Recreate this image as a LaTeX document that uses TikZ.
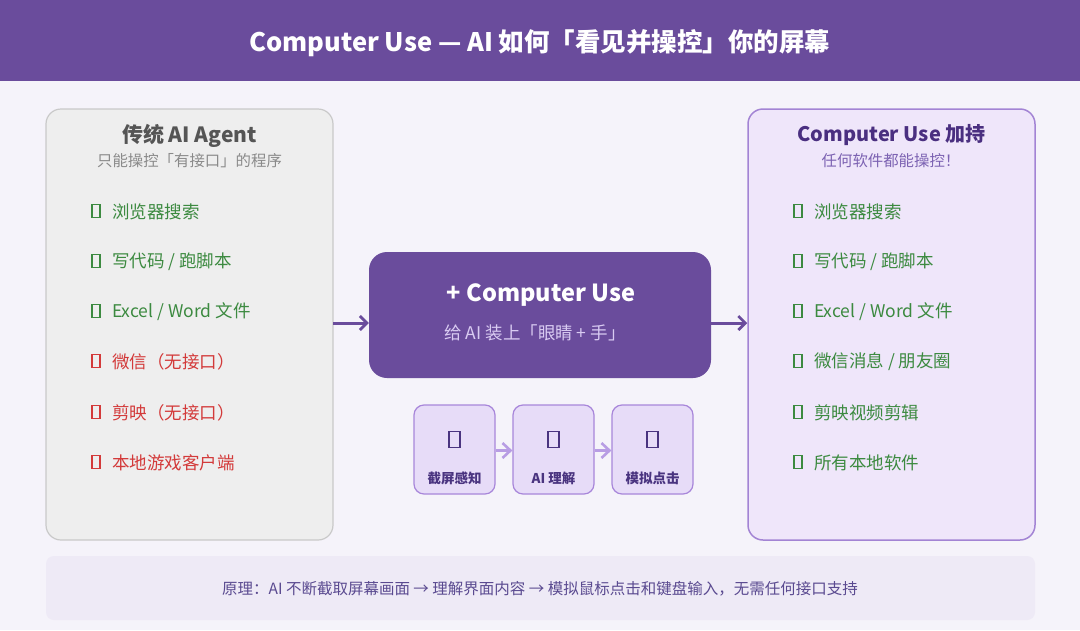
\documentclass[tikz,border=0pt]{standalone}
\usepackage{fontspec}
\setmainfont{Noto Sans CJK SC}
\usetikzlibrary{arrows.meta}
\definecolor{bgc}{HTML}{F5F3FA}
\definecolor{barc}{HTML}{6A4C9C}
\definecolor{leftfill}{HTML}{EEEEEE}
\definecolor{leftdraw}{HTML}{C9C9C9}
\definecolor{rightfill}{HTML}{EFE6FA}
\definecolor{rightdraw}{HTML}{A384D4}
\definecolor{greenc}{HTML}{3C8A40}
\definecolor{redc}{HTML}{D33A3A}
\definecolor{graytitle}{HTML}{555555}
\definecolor{graysub}{HTML}{8A8A8A}
\definecolor{purpletitle}{HTML}{4A2F80}
\definecolor{purplesub}{HTML}{7C62B2}
\definecolor{centersub}{HTML}{D9CBF2}
\definecolor{smallfill}{HTML}{E7DCF8}
\definecolor{smalldraw}{HTML}{A886DA}
\definecolor{smalltext}{HTML}{4A3480}
\definecolor{smallarrow}{HTML}{B89DE4}
\definecolor{bottomfill}{HTML}{EEEAF6}
\definecolor{bottomtext}{HTML}{5A4A90}
\tikzset{
  fs/.style={font=\fontsize{#1}{#1}\selectfont},
  itemg/.style={anchor=west, text=greenc, fs=17.5},
  itemr/.style={anchor=west, text=redc, fs=17.5},
  tofu/.style={draw=#1, line width=1.3pt, inner sep=0pt, minimum width=8pt, minimum height=13pt},
  bigtofu/.style={draw=smalltext, line width=1.5pt, inner sep=0pt, minimum width=11pt, minimum height=16pt},
  smallbox/.style={draw=smalldraw, line width=1.2pt, fill=smallfill, rounded corners=10pt, minimum width=81pt, minimum height=89pt},
  smalllab/.style={text=smalltext, font=\bfseries\fontsize{13.5}{13.5}\selectfont},
  mainarrow/.style={draw=barc, line width=3pt, -{Straight Barb[length=7pt,width=14pt,line width=2.8pt]}},
  smallarr/.style={draw=smallarrow, line width=2.8pt, -{Straight Barb[length=8pt,width=15pt,line width=2.6pt]}},
}
\begin{document}
\begin{tikzpicture}[x=1pt,y=-1pt]
\fill[bgc] (0,0) rectangle (1080,630);
\useasboundingbox (0,0) rectangle (1080,630);
% title bar
\fill[barc] (0,0) rectangle (1080,81);
\node[text=white, font=\bfseries\fontsize{25.5}{25.5}\selectfont] (title) at (540,43) {Computer Use — AI 如何「看见并操控」你的屏幕};

% left panel
\node[draw=leftdraw, line width=1.2pt, fill=leftfill, rounded corners=15pt, minimum width=287pt, minimum height=431pt] (left) at (189.5,324.5) {};
\node[text=graytitle, font=\bfseries\fontsize{21}{21}\selectfont] (ltitle) at (189.5,135.5) {传统 AI Agent};
\node[text=graysub, fs=15.4] (lsub) at (189.5,161) {只能操控「有接口」的程序};
\foreach \y/\t/\s/\c [count=\i] in {211/{浏览器搜索}/itemg/greenc, 261/{写代码 / 跑脚本}/itemg/greenc, 311/{Excel / Word 文件}/itemg/greenc, 361/{微信（无接口）}/itemr/redc, 412/{剪映（无接口）}/itemr/redc, 462/{本地游戏客户端}/itemr/redc}{
  \node[\s, inner sep=0pt] (lt\i) at (112,\y+1) {\t};
  \node[tofu=\c] (lb\i) at (96,\y) {};
}

% right panel
\node[draw=rightdraw, line width=1.5pt, fill=rightfill, rounded corners=15pt, minimum width=287pt, minimum height=431pt] (right) at (891.5,324.5) {};
\node[text=purpletitle, font=\bfseries\fontsize{20}{20}\selectfont] (rtitle) at (891.5,135.5) {Computer Use 加持};
\node[text=purplesub, fs=15.4] (rsub) at (891,161) {任何软件都能操控！};
\foreach \y/\t [count=\i] in {211/{浏览器搜索}, 261/{写代码 / 跑脚本}, 311/{Excel / Word 文件}, 361/{微信消息 / 朋友圈}, 412/{剪映视频剪辑}, 462/{所有本地软件}}{
  \node[itemg, inner sep=0pt] (rt\i) at (814,\y+1) {\t};
  \node[tofu=greenc] (rb\i) at (798,\y) {};
}

% center box
\node[fill=barc, rounded corners=18pt, minimum width=342pt, minimum height=126pt] (center) at (540,315) {};
\node[text=white, font=\bfseries\fontsize{23.5}{23.5}\selectfont] (ctitle) at (541,295.5) {+ Computer Use};
\node[text=centersub, fs=17.5] (csub) at (535,333) {给 AI 装上「眼睛 + 手」};

\coordinate (la) at (333,323);
\coordinate (ra) at (711,323);
\draw[mainarrow] (la) -- (center.west |- la);
\draw[mainarrow] (ra) -- (right.west |- ra);

% small boxes
\node[smallbox] (s1) at (454.5,449.5) {};
\node[smallbox] (s2) at (553.5,449.5) {};
\node[smallbox] (s3) at (652.5,449.5) {};
\foreach \n/\t in {s1/{截屏感知}, s2/{AI 理解}, s3/{模拟点击}}{
  \node[bigtofu] at ([yshift=10pt]\n.center) {};
  \node[smalllab] at ([yshift=-29pt]\n.center) {\t};
}
\draw[smallarr] ([yshift=-1pt]s1.east) -- ([yshift=-1pt]s2.west);
\draw[smallarr] ([yshift=-1pt]s2.east) -- ([yshift=-1pt]s3.west);

% bottom
\node[fill=bottomfill, rounded corners=8pt, minimum width=989pt, minimum height=64pt] (bottom) at (540.5,588) {};
\node[text=bottomtext, fs=15.5] (btext) at (540,589) {原理：AI 不断截取屏幕画面 → 理解界面内容 → 模拟鼠标点击和键盘输入，无需任何接口支持};
\end{tikzpicture}
\end{document}
